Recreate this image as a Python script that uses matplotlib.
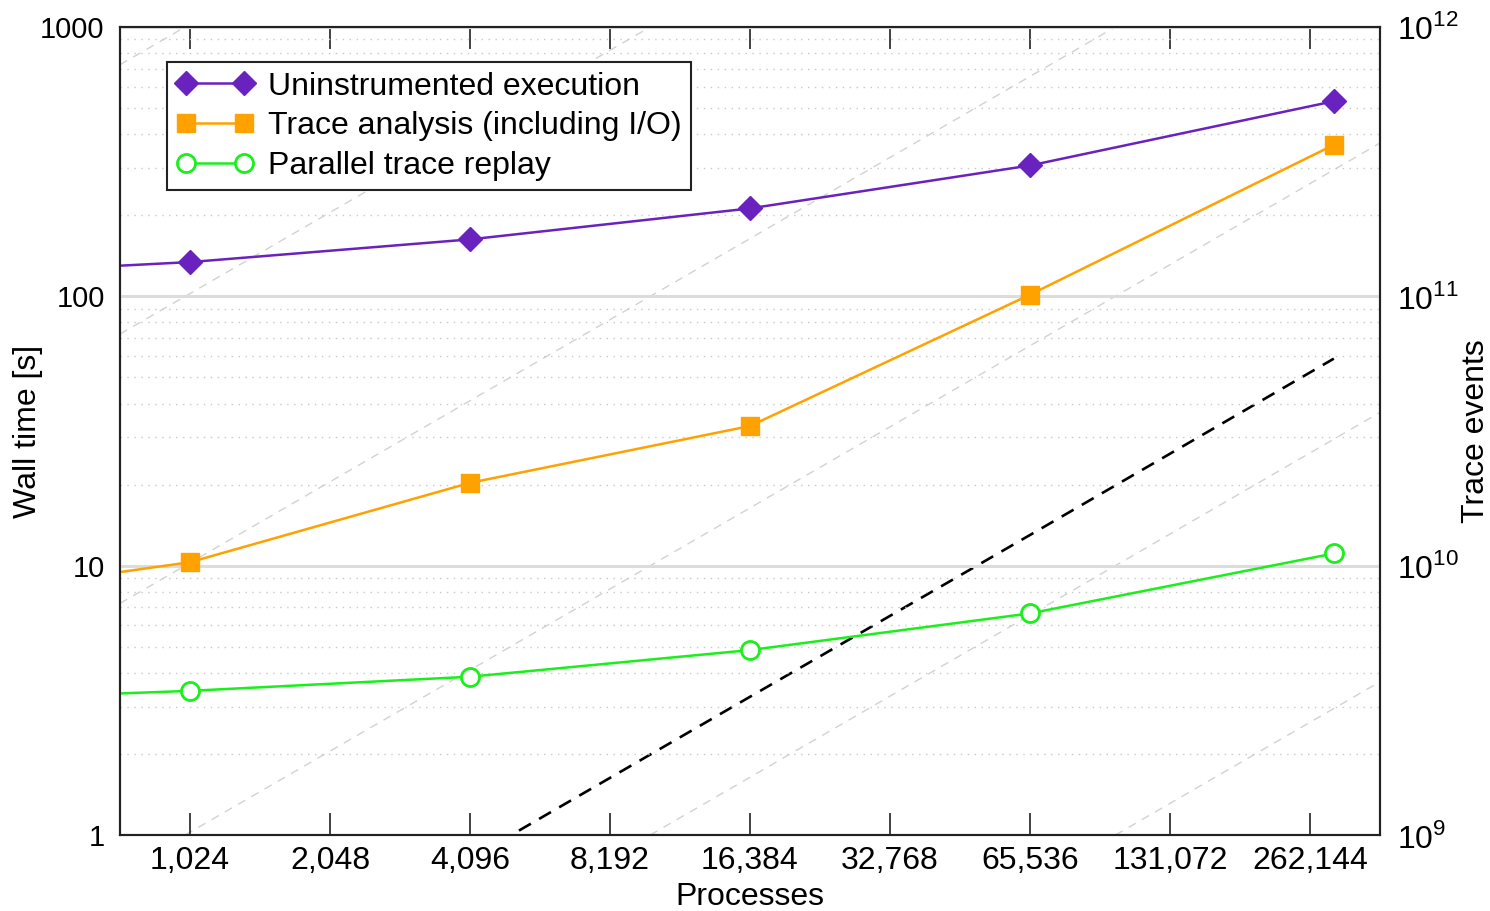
import numpy as np
import matplotlib.pyplot as plt
from matplotlib.ticker import FixedLocator, FixedFormatter, LogLocator, NullFormatter

plt.rcParams['font.family'] = ['Liberation Sans', 'DejaVu Sans']
plt.rcParams['mathtext.fontset'] = 'custom'
plt.rcParams['mathtext.rm'] = 'Liberation Sans'

# data
procs = [512, 1024, 4096, 16384, 65536, 294912]
uninstrumented = [126, 134, 162.7, 212, 306, 530]
trace_analysis = [8.7, 10.3, 20.3, 33.0, 101.4, 365]
replay = [3.28, 3.43, 3.87, 4.86, 6.65, 11.1]

event_procs = [1024, 4096, 16384, 65536, 294912]
trace_events = [2.04e8, 8.15e8, 3.26e9, 1.30e10, 5.87e10]

# events per process for the grey reference lines
ref_events_per_proc = [1e4, 1e5, 1e6, 1e7, 1e8, 1e9]

xticks = [1024, 2048, 4096, 8192, 16384, 32768, 65536, 131072, 262144]
xtick_labels = [f"{v:,}" for v in xticks]

purple = '#6a22be'
orange = '#ffa200'
green = '#19f019'
fs = 23

fig = plt.figure(figsize=(14.9, 9.11), dpi=100)
ax = fig.add_axes([0.0805, 0.0834, 0.8457, 0.887])
ax2 = ax.twinx()
ax.set_zorder(ax2.get_zorder() + 1)
ax.patch.set_visible(False)

ax.set_xscale('log', base=2)
ax.set_yscale('log')
ax2.set_yscale('log')
ax.set_xlim(2 ** 9.5, 2 ** 18.5)
ax.set_ylim(1, 1000)
ax2.set_ylim(1e9, 1e12)

# grid
ax.yaxis.set_minor_locator(LogLocator(base=10, subs=np.arange(2, 10)))
ax.yaxis.set_minor_formatter(NullFormatter())
ax.grid(True, which='major', axis='y', color='#dcdcdc', lw=2.2, ls='-', zorder=0)
ax.grid(True, which='minor', axis='y', color='#c8c8c8', lw=1.0, ls=(0, (1, 4)), zorder=0)

# reference lines (linear scaling) and trace events on right axis
for c in ref_events_per_proc:
    ax2.axline((1024, c * 1024), (2048, c * 2048), color='#d2d2d2', lw=1.0,
               dashes=(6, 5))
ax2.plot(event_procs, trace_events, color='black', lw=1.9, dashes=(5.2, 3.6))

ax.plot(procs, uninstrumented, color=purple, lw=1.8, marker='D', ms=12,
        mfc=purple, mec=purple, label='Uninstrumented execution')
ax.plot(procs, trace_analysis, color=orange, lw=1.8, marker='s', ms=13,
        mfc=orange, mec=orange, label='Trace analysis (including I/O)')
ax.plot(procs, replay, color=green, lw=1.8, marker='o', ms=13,
        mfc='white', mec=green, mew=2, label='Parallel trace replay')

# axes
ax.xaxis.set_major_locator(FixedLocator(xticks))
ax.xaxis.set_major_formatter(FixedFormatter(xtick_labels))
ax.xaxis.set_minor_locator(FixedLocator([]))
ax.set_yticks([1, 10, 100, 1000])
ax.set_yticklabels(['1', '10', '100', '1000'])
ax.tick_params(axis='x', which='major', direction='in', top=True, length=16,
               width=1.3, color='#333333', labelsize=fs, pad=8)
ax.tick_params(axis='y', which='both', length=0, labelsize=fs - 2, pad=11)
ax2.set_yticks([1e9, 1e10, 1e11, 1e12])
ax2.set_yticklabels([r'$10^{9}$', r'$10^{10}$', r'$10^{11}$', r'$10^{12}$'])
ax2.yaxis.set_minor_locator(FixedLocator([]))
ax2.tick_params(axis='y', which='both', length=0, labelsize=fs, pad=12)

for a in (ax, ax2):
    for s in a.spines.values():
        s.set_linewidth(1.5)
        s.set_color('#222222')

ax.set_xlabel('Processes', fontsize=fs, labelpad=4)
ax.set_ylabel('Wall time [s]', fontsize=fs)
ax.yaxis.set_label_coords(-0.061, 0.5)
ax2.set_ylabel('Trace events', fontsize=fs, labelpad=2)

leg = ax.legend(loc='upper left', bbox_to_anchor=(0.0373, 0.9567),
                borderaxespad=0, fontsize=fs, numpoints=2, handlelength=2.4,
                handletextpad=0.45, labelspacing=0.3, borderpad=0.3,
                fancybox=False, framealpha=1)
leg.get_frame().set_edgecolor('#222222')
leg.get_frame().set_linewidth(1.5)

plt.savefig('out.png', dpi=100)
